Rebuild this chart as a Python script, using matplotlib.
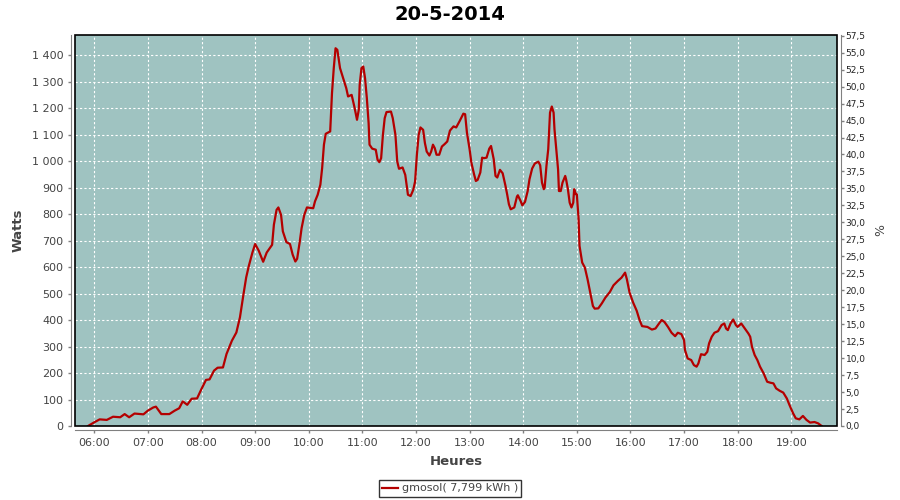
import matplotlib
matplotlib.use('Agg')
import matplotlib.pyplot as plt
from matplotlib.patches import Rectangle
from matplotlib.ticker import MultipleLocator, FuncFormatter

# Production relevee
heures = ['05:53', '06:00', '06:06', '06:14', '06:21', '06:29', '06:34', '06:39', '06:45', '06:55',
          '07:00', '07:06', '07:09', '07:15', '07:24', '07:30', '07:35', '07:39', '07:44', '07:49',
          '07:55', '08:00', '08:05', '08:09', '08:14', '08:18', '08:24', '08:28', '08:34', '08:39',
          '08:43', '08:47', '08:50', '08:53', '08:57', '09:00', '09:04', '09:09', '09:13', '09:19',
          '09:21', '09:24', '09:26', '09:29', '09:31', '09:35', '09:39', '09:42', '09:45', '09:47',
          '09:50', '09:52', '09:55', '09:58', '10:05', '10:07', '10:10', '10:13', '10:15', '10:17',
          '10:19', '10:24', '10:26', '10:28', '10:30', '10:32', '10:35', '10:38', '10:42', '10:44',
          '10:48', '10:51', '10:54', '10:56', '10:57', '10:59', '11:01', '11:03', '11:05', '11:07',
          '11:08', '11:11', '11:15', '11:17', '11:19', '11:21', '11:23', '11:25', '11:27', '11:32',
          '11:34', '11:37', '11:39', '11:41', '11:45', '11:48', '11:50', '11:51', '11:54', '11:57',
          '11:59', '12:01', '12:03', '12:05', '12:08', '12:10', '12:12', '12:15', '12:17', '12:19',
          '12:21', '12:23', '12:26', '12:29', '12:32', '12:35', '12:38', '12:42', '12:45', '12:49',
          '12:53', '12:55', '12:57', '13:00', '13:02', '13:05', '13:07', '13:09', '13:12', '13:14',
          '13:16', '13:19', '13:22', '13:24', '13:27', '13:29', '13:31', '13:34', '13:37', '13:40',
          '13:42', '13:44', '13:46', '13:50', '13:53', '13:54', '13:57', '13:59', '14:02', '14:05',
          '14:07', '14:10', '14:13', '14:17', '14:19', '14:21', '14:23', '14:24', '14:26', '14:28',
          '14:30', '14:32', '14:34', '14:35', '14:37', '14:39', '14:40', '14:42', '14:44', '14:47',
          '14:48', '14:50', '14:52', '14:54', '14:56', '14:57', '14:59', '15:00', '15:02', '15:03',
          '15:06', '15:09', '15:12', '15:15', '15:18', '15:20', '15:24', '15:28', '15:32', '15:37',
          '15:41', '15:46', '15:50', '15:54', '15:56', '15:59', '16:03', '16:07', '16:10', '16:13',
          '16:19', '16:24', '16:28', '16:32', '16:35', '16:38', '16:42', '16:46', '16:50', '16:53',
          '16:57', '17:00', '17:01', '17:04', '17:08', '17:11', '17:14', '17:16', '17:19', '17:23',
          '17:26', '17:28', '17:31', '17:34', '17:38', '17:42', '17:45', '17:47', '17:49', '17:52',
          '17:55', '17:58', '18:00', '18:04', '18:08', '18:12', '18:14', '18:16', '18:19', '18:22',
          '18:25', '18:29', '18:33', '18:37', '18:40', '18:43', '18:47', '18:51', '18:55', '18:58',
          '19:02', '19:05', '19:09', '19:13', '19:17', '19:21', '19:26', '19:30', '19:34']
watts = [0, 14, 25, 23, 35, 33, 45, 33, 47, 44,
         58, 70, 73, 45, 45, 58, 67, 93, 80, 103,
         104, 140, 174, 176, 209, 220, 221, 272, 322, 353,
         410, 498, 561, 605, 655, 687, 662, 620, 655, 684,
         760, 816, 825, 797, 735, 694, 687, 647, 621, 631,
         697, 747, 797, 825, 822, 848, 873, 911, 974, 1062,
         1103, 1112, 1256, 1351, 1426, 1420, 1351, 1319, 1275, 1244,
         1250, 1206, 1156, 1194, 1288, 1351, 1357, 1313, 1238, 1143,
         1062, 1047, 1043, 1005, 996, 1011, 1099, 1162, 1185, 1187,
         1162, 1099, 999, 971, 976, 948, 898, 873, 868, 892,
         923, 1024, 1099, 1127, 1118, 1068, 1036, 1021, 1036, 1062,
         1049, 1024, 1024, 1055, 1064, 1074, 1115, 1131, 1127, 1152,
         1179, 1177, 1108, 1045, 994, 950, 925, 929, 957, 1013,
         1011, 1013, 1047, 1057, 1007, 944, 938, 967, 954, 909,
         875, 837, 818, 825, 866, 871, 850, 833, 846, 887,
         931, 972, 991, 998, 984, 919, 894, 900, 982, 1045,
         1183, 1206, 1183, 1120, 1045, 969, 887, 887, 919, 944,
         931, 894, 843, 825, 843, 894, 875, 875, 780, 680,
         617, 598, 554, 504, 453, 443, 444, 463, 485, 506,
         531, 548, 560, 579, 554, 504, 466, 435, 402, 377,
         374, 364, 368, 387, 400, 393, 374, 352, 339, 352,
         347, 324, 287, 255, 249, 230, 224, 236, 271, 268,
         280, 312, 337, 352, 358, 381, 387, 368, 362, 387,
         402, 381, 374, 387, 368, 349, 337, 299, 268, 249,
         224, 199, 167, 163, 161, 142, 133, 126, 104, 79,
         48, 29, 25, 38, 23, 13, 15, 10, 0]

ticks_heures = list(range(6, 20))
serie = 'gmosol( 7,799 kWh )'
titre = '20-5-2014'

x = [int(h[:2]) + int(h[3:]) / 60 for h in heures]

plt.rcParams['font.family'] = 'DejaVu Sans'
fig = plt.figure(figsize=(9, 5), dpi=100)
ax = fig.add_axes([75.3 / 900, 74 / 500, 762 / 900, 391 / 500])
ax.set_facecolor('#9fc3c1')

ax.plot(x, watts, color='#b40000', linewidth=1.6, label=serie, zorder=3)

ax.set_xlim(5.646, 19.858)
ax.set_ylim(0, 1476)
ax.set_xticks(ticks_heures)
ax.set_xticklabels([f'{h:02d}:00' for h in ticks_heures])
ax.yaxis.set_major_locator(MultipleLocator(100))
ax.yaxis.set_major_formatter(FuncFormatter(lambda v, p: f'{int(v):,}'.replace(',', ' ')))
ax.grid(True, color='white', linestyle=(0, (2, 2)), linewidth=0.8)
ax.set_axisbelow(True)

# cadre noir + axes gris decales
ax.add_patch(Rectangle((0, 0), 1, 1, transform=ax.transAxes, fill=False,
                       edgecolor='black', linewidth=1.2, clip_on=False, zorder=5))
for s in ['top', 'right']:
    ax.spines[s].set_visible(False)
for s in ['left', 'bottom']:
    ax.spines[s].set_position(('outward', 3))
    ax.spines[s].set_color('#808080')
ax.tick_params(axis='both', colors='#808080', labelcolor='#444444', labelsize=8, length=2, width=1)

ax.set_xlabel('Heures', fontsize=9.5, fontweight='bold', color='#444444', labelpad=5)
ax.set_ylabel('Watts', fontsize=9.5, fontweight='bold', color='#444444', labelpad=5)

ax2 = ax.twinx()
ax2.set_ylim(0, 57.6)
ax2.yaxis.set_major_locator(MultipleLocator(2.5))
ax2.yaxis.set_major_formatter(FuncFormatter(lambda v, p: f'{v:.1f}'.replace('.', ',')))
for s in ['top', 'left', 'bottom']:
    ax2.spines[s].set_visible(False)
ax2.spines['right'].set_position(('outward', 3))
ax2.spines['right'].set_color('#808080')
ax2.tick_params(axis='y', colors='#808080', labelcolor='#222222', labelsize=6.5, length=2, width=1, pad=1)
ax2.set_ylabel('%', fontsize=9, color='#444444', labelpad=6)

fig.text(0.5, 1 - 15 / 500, titre, ha='center', va='center', fontsize=14, fontweight='bold')

leg = fig.legend(loc='lower center', bbox_to_anchor=(0.5, 0.002), fontsize=8, frameon=True,
                 fancybox=False, handlelength=1.4, handletextpad=0.35, borderpad=0.3,
                 borderaxespad=0.2)
leg.get_frame().set_edgecolor('black')
leg.get_frame().set_linewidth(1)
for t in leg.get_texts():
    t.set_color('#444444')

fig.savefig('out.png', dpi=100)
